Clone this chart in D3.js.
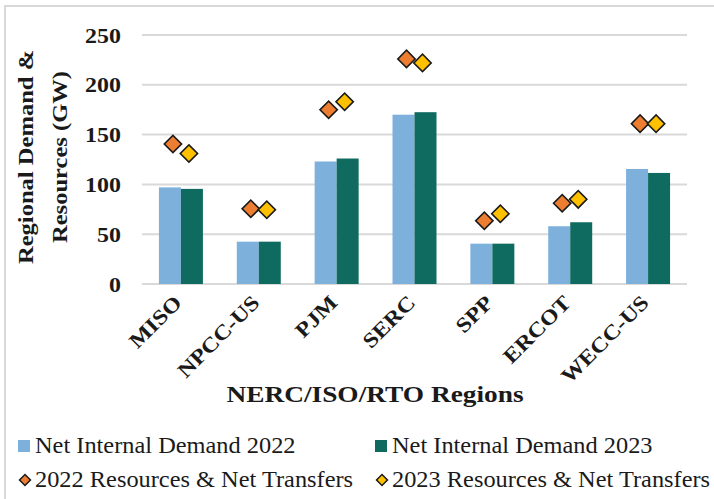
<!DOCTYPE html>
<html>
<head>
<meta charset="utf-8">
<script src="https://cdn.jsdelivr.net/npm/d3@7"></script>
<style>
    body { margin: 0; background: #ffffff; }
    #chart-area { width: 714px; height: 499px; }
</style>
</head>
<body>
<div id="chart-area"></div>
<script>

// data (GW)
let regions = ["MISO", "NPCC-US", "PJM", "SERC", "SPP", "ERCOT", "WECC-US"];
let demand2022 = [97, 42.5, 123, 170, 40.5, 58, 115.5];
let demand2023 = [95.5, 42.5, 126, 172.5, 40.5, 62, 111.5];
let resources2022 = [140.5, 75.5, 175, 226, 63.5, 81, 161];
let resources2023 = [131, 74.5, 183, 222, 70.5, 85, 161];
let yTicks = [0, 50, 100, 150, 200, 250];

let legendItems = [
    {label: "Net Internal Demand 2022", type: "bar", color: "#7eb0dc"},
    {label: "Net Internal Demand 2023", type: "bar", color: "#0f6b5f"},
    {label: "2022 Resources & Net Transfers", type: "diamond", color: "#ed7d31"},
    {label: "2023 Resources & Net Transfers", type: "diamond", color: "#ffc000"}
];

const SERIF = "'Liberation Serif', 'Times New Roman', 'DejaVu Serif', serif";


class DemandVis {

    constructor(parentElement) {
        this.parentElement = parentElement;
        this.initVis();
    }

    initVis() {
        let vis = this;

        vis.width = 714;
        vis.height = 499;
        vis.plot = {left: 142, right: 687, top: 35, bottom: 284};

        vis.svg = d3.select("#" + vis.parentElement).append("svg")
            .attr("width", vis.width)
            .attr("height", vis.height)
            .style("font-family", SERIF);

        // light frame around the whole chart
        vis.svg.append("rect")
            .attr("x", 5)
            .attr("y", 6)
            .attr("width", 730)
            .attr("height", 520)
            .attr("fill", "none")
            .attr("stroke", "#d9d9d9")
            .attr("stroke-width", 2);

        vis.x = d3.scaleBand()
            .domain(regions)
            .range([vis.plot.left, vis.plot.right])
            .paddingInner(0.435)
            .paddingOuter(0.2175);

        vis.y = d3.scaleLinear()
            .domain([0, 250])
            .range([vis.plot.bottom, vis.plot.top]);

        vis.drawAxes();
        vis.drawBars();
        vis.drawDiamonds();
        vis.drawLegend();
    }

    drawAxes() {
        let vis = this;

        // gridlines
        vis.svg.append("g")
            .attr("class", "grid")
            .selectAll("line")
            .data(yTicks)
            .enter().append("line")
            .attr("x1", vis.plot.left)
            .attr("x2", vis.plot.right)
            .attr("y1", d => vis.y(d))
            .attr("y2", d => vis.y(d))
            .attr("stroke", "#d9d9d9")
            .attr("stroke-width", 2);

        // y axis labels (no domain line)
        let yAxis = d3.axisLeft(vis.y)
            .tickValues(yTicks)
            .tickSize(0)
            .tickPadding(0);

        vis.svg.append("g")
            .attr("class", "y-axis")
            .attr("transform", "translate(121,0)")
            .call(yAxis)
            .attr("font-family", SERIF)
            .call(g => g.select(".domain").remove())
            .selectAll("text")
            .attr("x", 0)
            .attr("dy", "0.34em")
            .attr("transform", "scale(1.14,1)")
            .style("font-family", SERIF)
            .style("font-size", "21px")
            .style("font-weight", "bold")
            .attr("fill", "#1a1a1a");

        // y title in two lines (Garamond is wide, so stretch a little)
        let yTitle = ["Regional Demand &", "Resources (GW)"];
        vis.svg.selectAll(".y-title")
            .data(yTitle)
            .enter().append("text")
            .attr("class", "y-title")
            .attr("transform", (d, i) => `translate(${33 + i * 34}, 157) rotate(-90) scale(1.17,1)`)
            .attr("text-anchor", "middle")
            .style("font-size", "21px")
            .style("font-weight", "bold")
            .attr("fill", "#1a1a1a")
            .text(d => d);

        // rotated category labels
        vis.svg.selectAll(".cat-label")
            .data(regions)
            .enter().append("text")
            .attr("class", "cat-label")
            .attr("transform", d => `translate(${vis.x(d) + vis.x.bandwidth() / 2 + 2}, 304) rotate(-45) scale(1.15,1)`)
            .attr("text-anchor", "end")
            .style("font-size", "21px")
            .style("font-weight", "bold")
            .attr("fill", "#1a1a1a")
            .text(d => d);

        // x title
        vis.svg.append("text")
            .attr("class", "x-title")
            .attr("transform", "translate(375, 402) scale(1.19,1)")
            .attr("text-anchor", "middle")
            .style("font-size", "23px")
            .style("font-weight", "bold")
            .attr("fill", "#1a1a1a")
            .text("NERC/ISO/RTO Regions");
    }

    drawBars() {
        let vis = this;
        let barW = vis.x.bandwidth() / 2;

        let series = [
            {values: demand2022, color: legendItems[0].color, offset: 0},
            {values: demand2023, color: legendItems[1].color, offset: barW}
        ];

        series.forEach(s => {
            vis.svg.append("g")
                .selectAll("rect")
                .data(regions)
                .enter().append("rect")
                .attr("x", d => vis.x(d) + s.offset)
                .attr("y", (d, i) => vis.y(s.values[i]))
                .attr("width", barW)
                .attr("height", (d, i) => vis.y(0) - vis.y(s.values[i]))
                .attr("fill", s.color);
        });
    }

    drawDiamonds() {
        let vis = this;
        let diamond = d3.symbol().type(d3.symbolSquare).size(150);

        let series = [
            {values: resources2022, color: legendItems[2].color, offset: -8},
            {values: resources2023, color: legendItems[3].color, offset: 8}
        ];

        series.forEach(s => {
            vis.svg.append("g")
                .selectAll("path")
                .data(regions)
                .enter().append("path")
                .attr("d", diamond)
                .attr("transform", (d, i) =>
                    `translate(${vis.x(d) + vis.x.bandwidth() / 2 + s.offset}, ${vis.y(s.values[i])}) rotate(45)`)
                .attr("fill", s.color)
                .attr("stroke", "#1a1a1a")
                .attr("stroke-width", 1.6);
        });
    }

    drawLegend() {
        let vis = this;
        let small = d3.symbol().type(d3.symbolSquare).size(60);

        let legend = vis.svg.append("g").attr("class", "legend");

        let items = legend.selectAll("g")
            .data(legendItems)
            .enter().append("g")
            .attr("transform", (d, i) => `translate(${i % 2 === 0 ? 25 : 382}, ${i < 2 ? 446 : 480})`);

        items.filter(d => d.type === "bar")
            .append("rect")
            .attr("x", -7)
            .attr("y", -6)
            .attr("width", 12)
            .attr("height", 12)
            .attr("fill", d => d.color);

        items.filter(d => d.type === "diamond")
            .append("path")
            .attr("d", small)
            .attr("transform", "rotate(45)")
            .attr("fill", d => d.color)
            .attr("stroke", "#1a1a1a")
            .attr("stroke-width", 1.5);

        items.append("text")
            .attr("transform", "translate(10, 7) scale(1.06,1)")
            .style("font-size", "23px")
            .attr("fill", "#1a1a1a")
            .text(d => d.label);
    }
}

let myDemandVis = new DemandVis("chart-area");

</script>
</body>
</html>
